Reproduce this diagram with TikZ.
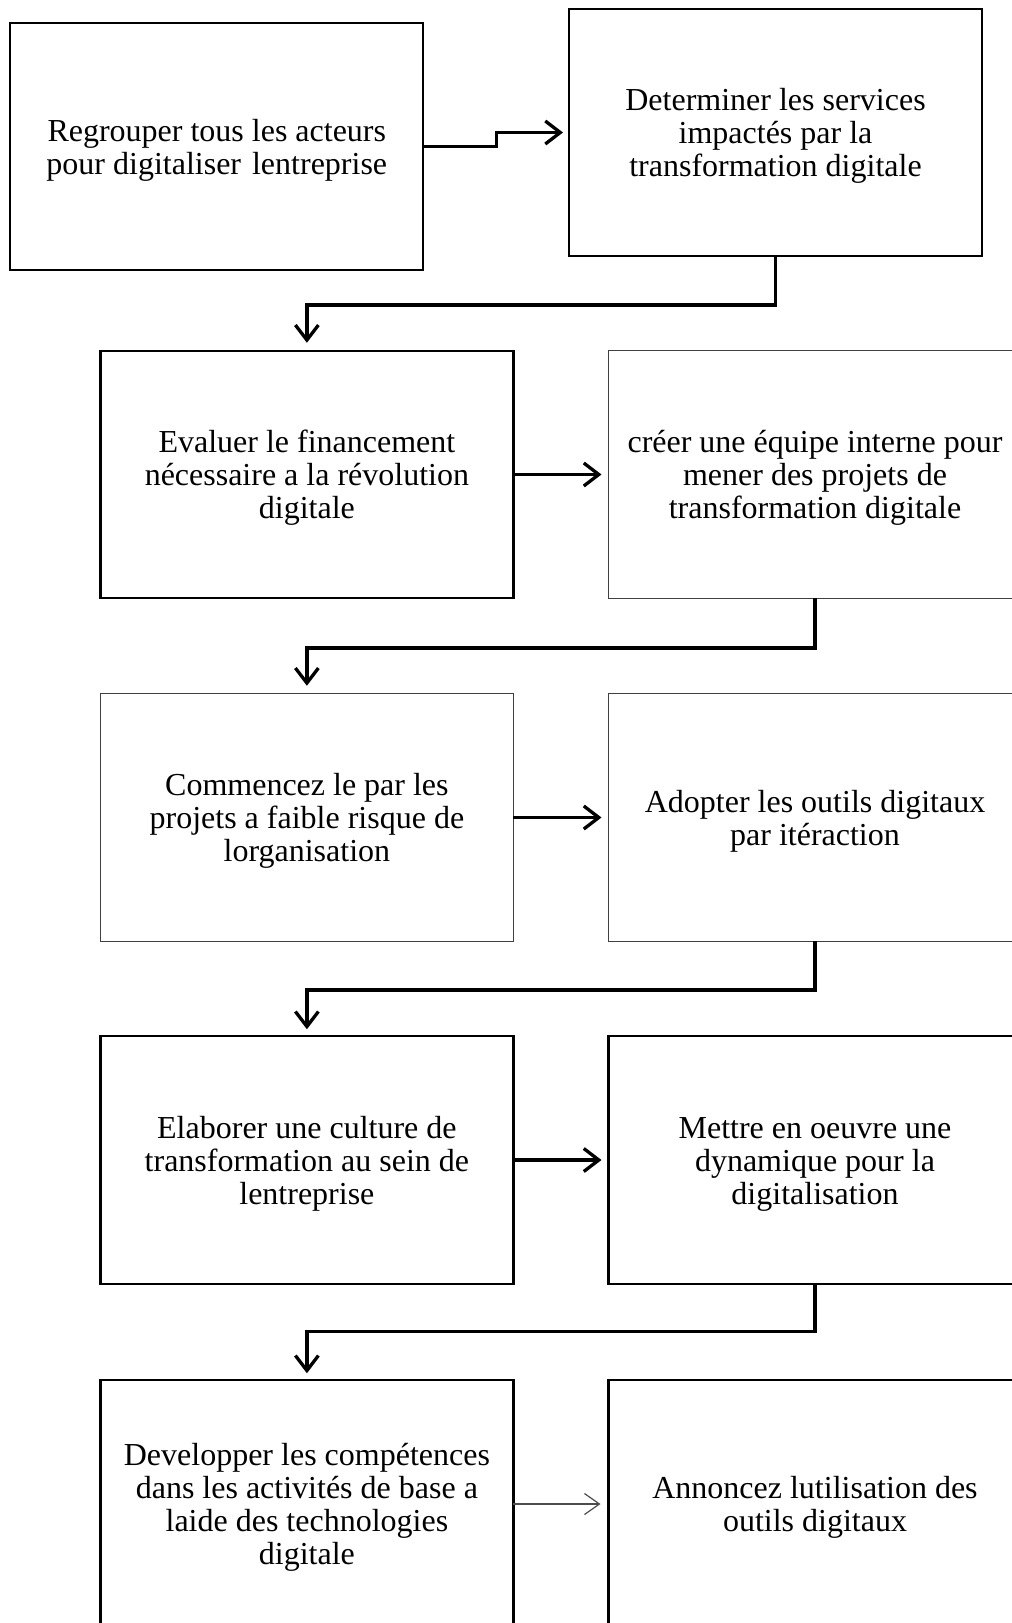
\documentclass[tikz,border=0pt]{standalone}
\usepackage{fontspec}
\setmainfont{Liberation Serif}
\usetikzlibrary{arrows.meta}
\newcommand\mytop{\rule{0pt}{29pt}}
\begin{document}
\begin{tikzpicture}[x=1pt,y=-1pt,
  boxbase/.style={rectangle, inner sep=0pt, outer sep=0pt, minimum width=413pt, minimum height=247.5pt, align=center, font=\fontsize{32}{33}\selectfont, text=black},
  thickbox/.style={boxbase, draw=black, line width=2.3pt},
  thinbox/.style={boxbase, draw=black!75, line width=1.1pt},
  conn/.style={draw=black, line width=3.3pt, -{Straight Barb[length=15pt,width=23pt]}},
  thinconn/.style={draw=black!70, line width=1.2pt, -{Straight Barb[length=15pt,width=21pt]}}
]
\useasboundingbox (0,0) rectangle (1012,1623);
\clip (0,0) rectangle (1012,1623);
\fill[white] (0,0) rectangle (1012,1623);

\node[thickbox] (b1) at (216.8,146.5) {\mytop Regrouper tous les acteurs\\pour digitaliser\hspace{3pt} lentreprise};
\node[thickbox] (b2) at (775.5,132.5) {\mytop Determiner les services\\impactés par la\\transformation digitale};
\node[thickbox] (b3) at (306.9,474.5) {\mytop Evaluer le financement\\nécessaire a la révolution\\digitale};
\node[thinbox] (b4) at (815,474.5) {\mytop créer une équipe interne pour\\mener des projets de\\transformation digitale};
\node[thinbox] (b5) at (306.9,817.5) {\mytop Commencez\ le par les\\projets a faible risque de\\lorganisation};
\node[thinbox] (b6) at (815,817.5) {\mytop Adopter les outils digitaux\\par itéraction};
\node[thickbox] (b7) at (306.9,1160) {\mytop Elaborer une culture de\\transformation au sein de\\lentreprise};
\node[thickbox] (b8) at (815,1160) {\mytop Mettre en oeuvre une\\dynamique pour la\\digitalisation};
\node[thickbox] (b9) at (306.9,1504) {\mytop Developper les compétences\\dans les activités de base a\\laide des technologies\\digitale};
\node[thickbox] (b10) at (815,1504) {\mytop Annoncez lutilisation des\\outils digitaux};

\draw[conn, shorten >=6pt] (b1.east) -- ++(73.5,0) |- (b2.west);
\draw[conn, shorten >=8pt] (b2.south) -- ++(0,48.6) -| (b3.north);
\draw[conn, shorten >=7pt] (b3.east) -- (b4.west);
\draw[conn, shorten >=8pt] (b4.south) -- ++(0,49.7) -| (b5.north);
\draw[conn, shorten >=7pt] (b5.east) -- (b6.west);
\draw[conn, shorten >=7pt] (b6.south) -- ++(0,48.6) -| (b7.north);
\draw[conn, shorten >=7pt] (b7.east) -- (b8.west);
\draw[conn, shorten >=7pt] (b8.south) -- ++(0,47.6) -| (b9.north);
\draw[thinconn, shorten >=8pt] (b9.east) -- (b10.west);
\end{tikzpicture}
\end{document}
